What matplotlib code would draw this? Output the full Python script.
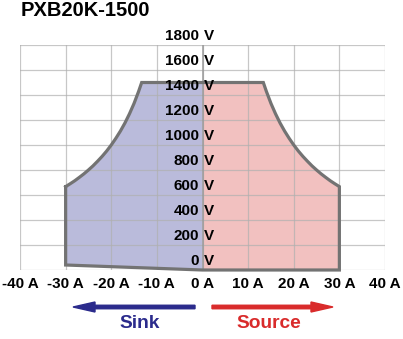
import matplotlib
matplotlib.use("Agg")
import matplotlib.pyplot as plt
from matplotlib.patches import Polygon, FancyArrow

plt.rcParams['font.family'] = ['Liberation Sans', 'DejaVu Sans']
plt.rcParams['font.weight'] = 'bold'

title = "PXB20K-1500"
current_ticks = [-40, -30, -20, -10, 0, 10, 20, 30, 40]
current_labels = ["-40 A", "-30 A", "-20 A", "-10 A", "0 A", "10 A", "20 A", "30 A", "40 A"]
voltage_ticks = [0, 200, 400, 600, 800, 1000, 1200, 1400, 1600, 1800]

# constant power section of the envelope (source side, mirrored for sink)
curve_i = [13.33, 14, 15, 16, 17, 18, 19, 20, 21, 22, 23, 24, 25, 26, 27, 28, 29, 30]
curve_v = [1500, 1429, 1333, 1250, 1176, 1111, 1053, 1000, 952, 909, 870, 833, 800, 769, 741, 714, 690, 667]
sink_floor_v = 40   # voltage at -30 A on bottom edge

W, H = 403, 339
fig = plt.figure(figsize=(W / 100, H / 100), dpi=100)
ax = fig.add_axes([20 / W, (H - 270) / H, 365 / W, 225 / H])
ax.set_xlim(-40, 40)
ax.set_ylim(0, 1800)

# envelope halves
src_pts = [(0, 0), (0, curve_v[0])] + list(zip(curve_i, curve_v)) + [(curve_i[-1], 0)]
snk_pts = [(0, 0), (0, curve_v[0])] + [(-i, v) for i, v in zip(curve_i, curve_v)] + [(-curve_i[-1], sink_floor_v)]
ax.add_patch(Polygon(src_pts, closed=True, fc="#f2c1c0", ec="none", zorder=0.5))
ax.add_patch(Polygon(snk_pts, closed=True, fc="#babbdb", ec="none", zorder=0.5))

# grid
for x in current_ticks:
    ax.axvline(x, color="#b0b0b0", lw=0.9, zorder=1, alpha=0.7)
for y in voltage_ticks:
    ax.axhline(y, color="#b0b0b0", lw=0.9, zorder=1, alpha=0.7)
ax.axvline(0, color="#9a9a9a", lw=1.1, zorder=1)

# outline
out_x = [-i for i in curve_i[::-1]] + curve_i + [curve_i[-1], 0, -curve_i[-1], -curve_i[-1]]
out_y = curve_v[::-1] + curve_v + [0, 0, sink_floor_v, curve_v[-1]]
ax.plot(out_x, out_y, color="#737373", lw=2.3, solid_joinstyle="miter", clip_on=False, zorder=3)

# voltage labels
for v in voltage_ticks:
    ax.annotate(str(v), (0, v), xytext=(-2.5, 3.6), textcoords="offset points",
                ha="right", va="baseline", fontsize=11, fontweight="bold", zorder=4)
    ax.annotate("V", (0, v), xytext=(1.2, 3.6), textcoords="offset points",
                ha="left", va="baseline", fontsize=11, fontweight="bold", zorder=4)

ax.set_xticks(current_ticks)
ax.set_xticklabels(current_labels, fontsize=11, fontweight="bold")
ax.set_yticks([])
ax.tick_params(axis="x", length=0, pad=5)
for s in ax.spines.values():
    s.set_visible(False)

fig.text(21 / W, 1 - 10 / H, title, fontsize=14.5, fontweight="bold", ha="left", va="center")

# sink/source arrows
fig.patches.append(FancyArrow(195 / W, 1 - 307 / H, -122 / W, 0, width=3.5 / H,
                              head_width=10 / H, head_length=22 / W, length_includes_head=True,
                              color="#2b2b8c", transform=fig.transFigure, figure=fig))
fig.patches.append(FancyArrow(212 / W, 1 - 307 / H, 121 / W, 0, width=3.5 / H,
                              head_width=10 / H, head_length=22 / W, length_includes_head=True,
                              color="#d92b2b", transform=fig.transFigure, figure=fig))
fig.text(140 / W, 1 - 324 / H, "Sink", color="#2b2b8c", fontsize=13.8, fontweight="bold",
         ha="center", va="center")
fig.text(269 / W, 1 - 324 / H, "Source", color="#d92b2b", fontsize=13.8, fontweight="bold",
         ha="center", va="center")

fig.savefig("out.png", dpi=100)
